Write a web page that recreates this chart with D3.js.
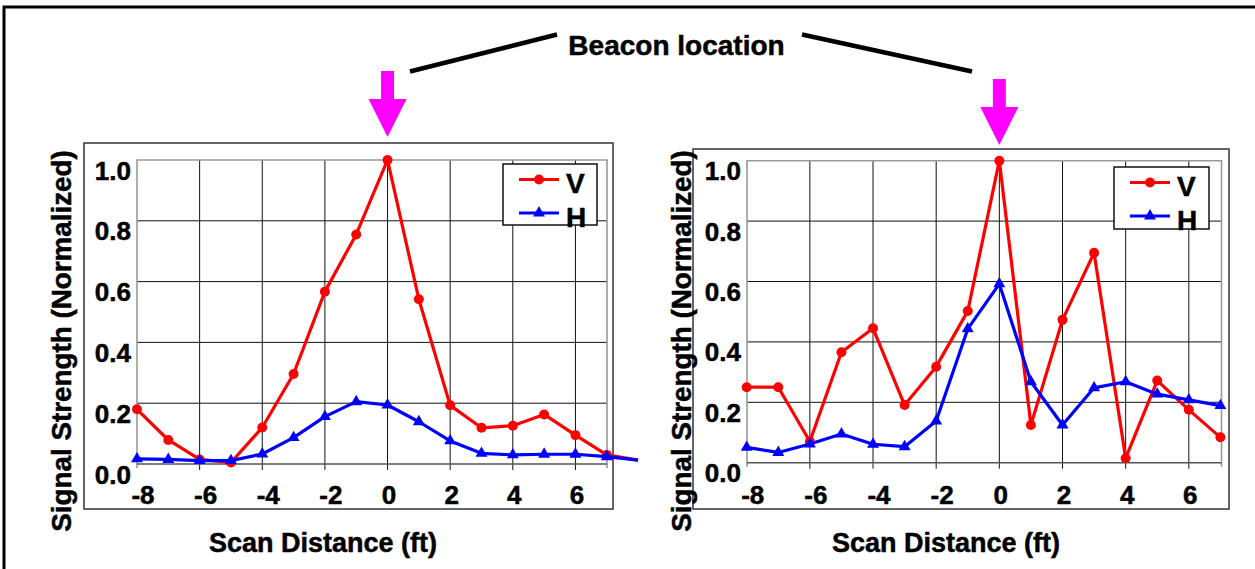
<!DOCTYPE html>
<html>
<head>
<meta charset="utf-8">
<script src="https://cdn.jsdelivr.net/npm/d3@7"></script>
<style>
  html, body { margin: 0; padding: 0; background: #fff; }
  svg { display: block; font-family: "Liberation Sans", Arial, sans-serif; font-weight: bold; }
  svg text { fill: #000; stroke: #000; stroke-width: 0.5px; }
</style>
</head>
<body>
<svg id="chart" width="1255" height="569"></svg>
<script>
// ---- Data ----
const xTickValues = [-8, -6, -4, -2, 0, 2, 4, 6];
const yTickValues = [0, 0.2, 0.4, 0.6, 0.8, 1.0];
const seriesNames = ["V", "H"];

// Left scan (last point at 8 ft runs past the plot edge)
const leftDist = [-8, -7, -6, -5, -4, -3, -2, -1, 0, 1, 2, 3, 4, 5, 6, 7, 8];
const leftV = [0.18, 0.079, 0.015, 0.005, 0.12, 0.296, 0.567, 0.755, 1.0, 0.542, 0.193, 0.119, 0.126, 0.163, 0.095, 0.03, 0.013];
const leftH = [0.017, 0.015, 0.011, 0.011, 0.033, 0.087, 0.156, 0.205, 0.194, 0.139, 0.076, 0.035, 0.03, 0.032, 0.032, 0.024, 0.013];

// Right scan
const rightDist = [-8, -7, -6, -5, -4, -3, -2, -1, 0, 1, 2, 3, 4, 5, 6, 7];
const rightV = [0.25, 0.25, 0.07, 0.366, 0.445, 0.191, 0.318, 0.502, 1.0, 0.125, 0.473, 0.695, 0.015, 0.272, 0.175, 0.084];
const rightH = [0.051, 0.034, 0.062, 0.095, 0.061, 0.053, 0.138, 0.443, 0.592, 0.268, 0.125, 0.248, 0.268, 0.227, 0.208, 0.189];

const titleText = "Beacon location";
const xTitle = "Scan Distance (ft)";
const yTitle = "Signal Strength (Normalized)";

// ---- Layout ----
const svg = d3.select("#chart");
const RED = "#ff0000", BLUE = "#0000ff", MAGENTA = "#ff00ff";

// outer frame
svg.append("rect").attr("x", 4).attr("y", 7).attr("width", 1270).attr("height", 600)
  .attr("fill", "none").attr("stroke", "#000").attr("stroke-width", 3);

const panels = [
  { box: [84, 143, 613, 509], plot: [137, 160, 607, 464], xr: [137, 606.75],
    dist: leftDist, V: leftV, H: leftH,
    legend: [503, 164, 94, 61], yTitleX: 71, yTitleY: 341, xTitleX: 323, arrowTop: 71, arrowTip: 137 },
  { box: [693, 149, 1229, 509], plot: [747, 160.7, 1221.5, 462.7], xr: [746.7, 1220.4],
    dist: rightDist, V: rightV, H: rightH,
    legend: [1114, 167, 95, 62], yTitleX: 691, yTitleY: 341, xTitleX: 946, arrowTop: 79, arrowTip: 145 }
];

panels.forEach(p => {
  const g = svg.append("g");
  const [bx0, by0, bx1, by1] = p.box;
  const [px0, py0, px1, py1] = p.plot;
  const x = d3.scaleLinear().domain([-8, 7]).range(p.xr);
  const y = d3.scaleLinear().domain([0, 1]).range([py1, py0]);

  // panel box
  g.append("rect").attr("x", bx0).attr("y", by0).attr("width", bx1 - bx0).attr("height", by1 - by0)
    .attr("fill", "#fff").attr("stroke", "#333").attr("stroke-width", 1.5);

  // horizontal gridlines
  g.selectAll(".hg").data(yTickValues.filter(v => v > 0 && v < 1)).join("line")
    .attr("x1", px0).attr("x2", px1).attr("y1", d => y(d)).attr("y2", d => y(d))
    .attr("stroke", "#111").attr("stroke-width", 1);
  // vertical gridlines (with tick below baseline)
  g.selectAll(".vg").data(xTickValues.filter(v => v > -8)).join("line")
    .attr("x1", d => x(d)).attr("x2", d => x(d)).attr("y1", py0).attr("y2", py1 + 6)
    .attr("stroke", "#111").attr("stroke-width", 1);
  // plot frame: gray top/left/right, dark baseline
  g.append("path").attr("d", `M${px0},${py1 + 4}V${py0}H${px1}V${py1 + 4}`)
    .attr("fill", "none").attr("stroke", "#999").attr("stroke-width", 1.6);
  g.append("line").attr("x1", px0).attr("x2", px1).attr("y1", py1).attr("y2", py1)
    .attr("stroke", "#555").attr("stroke-width", 1.4);

  // y tick labels
  g.selectAll(".yl").data(yTickValues).join("text")
    .attr("x", px0 - 6).attr("y", d => y(d) + 19.5).attr("text-anchor", "end")
    .attr("font-size", 26).text(d => d3.format(".1f")(d));
  // x tick labels
  g.selectAll(".xl").data(xTickValues).join("text")
    .attr("x", d => x(d) + (d < 0 ? 6 : 1.5)).attr("y", 503.5).attr("text-anchor", "middle")
    .attr("font-size", 26).text(d => d);

  // axis titles
  g.append("text").attr("x", p.xTitleX).attr("y", 552).attr("text-anchor", "middle")
    .attr("font-size", 27).text(xTitle);
  g.append("text").attr("transform", `translate(${p.yTitleX},${p.yTitleY}) rotate(-90)`)
    .attr("text-anchor", "middle").attr("font-size", 27.8).text(yTitle);

  // series
  const series = [
    { name: "V", vals: p.V, color: RED, sym: d3.symbolCircle, size: 78 },
    { name: "H", vals: p.H, color: BLUE, sym: d3.symbolTriangle, size: 62 }
  ];
  const line = d3.line().x(d => x(d[0])).y(d => y(d[1]));
  series.forEach(s => {
    const pts = p.dist.map((d, i) => [d, s.vals[i]]);
    g.append("path").datum(pts).attr("d", line).attr("fill", "none")
      .attr("stroke", s.color).attr("stroke-width", 3.2).attr("stroke-linejoin", "round");
    g.selectAll(null).data(pts.filter(d => d[0] <= 7)).join("path")
      .attr("transform", d => `translate(${x(d[0])},${y(d[1])})`)
      .attr("d", d3.symbol().type(s.sym).size(s.size)).attr("fill", s.color);
  });

  // legend
  const [lx, ly, lw, lh] = p.legend;
  g.append("rect").attr("x", lx).attr("y", ly).attr("width", lw).attr("height", lh)
    .attr("fill", "#fff").attr("stroke", "#111").attr("stroke-width", 1.5);
  series.forEach((s, i) => {
    const yy = ly + 15.5 + i * 33.5;
    g.append("line").attr("x1", lx + 16).attr("x2", lx + 56).attr("y1", yy).attr("y2", yy)
      .attr("stroke", s.color).attr("stroke-width", 3.2);
    g.append("path").attr("transform", `translate(${lx + 36},${yy})`)
      .attr("d", d3.symbol().type(s.sym).size(s.size)).attr("fill", s.color);
    g.append("text").attr("x", lx + 63).attr("y", yy + 13.5).attr("font-size", 28).text(seriesNames[i]);
  });

  // magenta arrow pointing at x = 0
  const cx = x(0);
  const top = p.arrowTop, tip = p.arrowTip, headStart = top + 28;
  const ap = d3.path();
  ap.moveTo(cx - 6.5, top); ap.lineTo(cx + 6.5, top); ap.lineTo(cx + 6.5, headStart);
  ap.lineTo(cx + 19, headStart); ap.lineTo(cx, tip); ap.lineTo(cx - 19, headStart);
  ap.lineTo(cx - 6.5, headStart); ap.closePath();
  svg.append("path").attr("d", ap.toString()).attr("fill", MAGENTA);
});

// title and leader lines
svg.append("text").attr("x", 676.5).attr("y", 55).attr("text-anchor", "middle")
  .attr("font-size", 28).text(titleText);
svg.append("line").attr("x1", 410).attr("y1", 71.5).attr("x2", 557).attr("y2", 34.5)
  .attr("stroke", "#000").attr("stroke-width", 4.5);
svg.append("line").attr("x1", 802).attr("y1", 34.5).attr("x2", 972).attr("y2", 71.5)
  .attr("stroke", "#000").attr("stroke-width", 4.5);
</script>
</body>
</html>
